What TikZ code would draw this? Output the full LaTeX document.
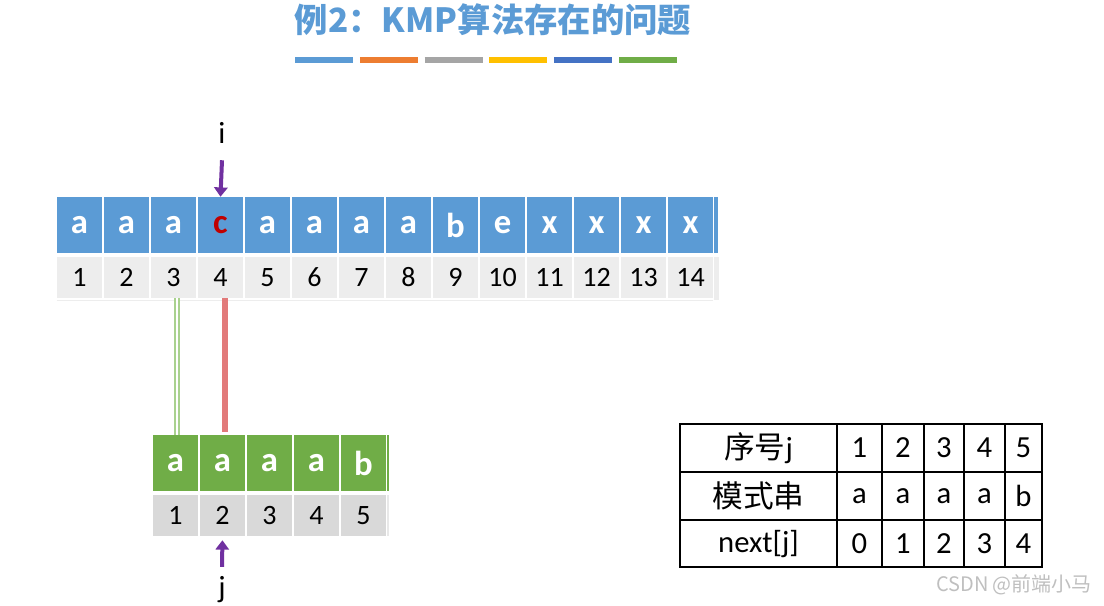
\documentclass[tikz,border=0pt]{standalone}
\usepackage{fontspec}
\setmainfont{Carlito}
\newfontfamily\cjk{Noto Sans CJK SC}
\usetikzlibrary{positioning,arrows.meta}
\definecolor{KBlue}{HTML}{5B9BD5}
\definecolor{KOrange}{HTML}{ED7D31}
\definecolor{KGray}{HTML}{A5A5A5}
\definecolor{KGold}{HTML}{FFC000}
\definecolor{KNavy}{HTML}{4472C4}
\definecolor{KGreen}{HTML}{70AD47}
\definecolor{KRed}{HTML}{C00000}
\definecolor{KPurple}{HTML}{7030A0}
\definecolor{KLight}{HTML}{EDEDED}
\definecolor{KMid}{HTML}{D9D9D9}
\definecolor{KLgreen}{HTML}{A9D18E}
\definecolor{KSalmon}{RGB}{226,122,122}
\begin{document}
\begin{tikzpicture}[x=0.75pt,y=-0.75pt,>=Triangle,
  txtcell/.style={minimum width=33.75pt,minimum height=42pt,inner sep=0pt,fill=KBlue,text=white,font=\fontsize{26}{30}\selectfont\bfseries},
  idxcell/.style={minimum width=33.75pt,minimum height=30.75pt,inner sep=0pt,fill=KLight,font=\fontsize{21}{25}\selectfont},
  patcell/.style={txtcell,fill=KGreen},
  patidx/.style={idxcell,fill=KMid},
  ptr/.style={->,KPurple,line width=3pt,>={Triangle[width=10pt,length=7pt]}},
  tabtxt/.style={inner sep=0pt,font=\fontsize{23}{27}\selectfont},
  bar/.style={line width=3.8pt}]
\useasboundingbox (0,0) rectangle (1104,606);
% title and colour bars
\node[font=\cjk\bfseries\fontsize{25}{30}\selectfont,text=KBlue] (title) at (493,20) {例2：KMP算法存在的问题};
\foreach \col [count=\k] in {KBlue,KOrange,KGray,KGold,KNavy,KGreen}
  \draw[bar,\col] ({295+64.8*(\k-1)},60) -- ({353+64.8*(\k-1)},60);
% main string
\foreach \ch/\tc [count=\k] in {a/white,a/white,a/white,c/KRed,a/white,a/white,a/white,a/white,b/white,e/white,x/white,x/white,x/white,x/white}{
  \node[txtcell,text=\tc] (t\k) at ({79.5+47*(\k-1)},225) {\ch};
  \node[idxcell] (n\k) at ({79.5+47*(\k-1)},277.5) {\k};
}
\fill[KBlue] (714,197) rectangle (718,253);
\fill[KLight] (714,257) rectangle (719,300);
\draw[KLight,line width=1pt] ([yshift=-1.5pt]n1.south west) -- ([yshift=-1.5pt]n14.south east);
% pattern string
\foreach \ch [count=\k] in {a,a,a,a,b}{
  \node[patcell] (p\k) at ({175.5+47*(\k-1)},463) {\ch};
  \node[patidx] (q\k) at ({175.5+47*(\k-1)},515.5) {\k};
}
\fill[KGreen] (387,435) rectangle (389,491);
\fill[KMid!60] (387,495) rectangle (389,536);
% pointers
\node[font=\fontsize{23}{27}\selectfont] (i) at (222,133) {i};
\draw[ptr] ([yshift=-9pt]i.south) -- (t4.north);
\node[font=\fontsize{23}{27}\selectfont] (j) at (222,590) {j};
\draw[ptr,shorten >=3pt] ([yshift=4pt]j.north) -- (q2.south);
% match / mismatch
\draw[KLgreen,line width=1.5pt,double=white,double distance=1.5pt]
  ([xshift=1.2pt]p1.north |- n3.south) -- ([xshift=1.2pt]p1.north);
\draw[KSalmon,line width=4.5pt] ([xshift=1.9pt]p2.north |- n4.south) -- ([xshift=1.9pt,yshift=2pt]p2.north);
% next table
\draw[line width=0.9pt] (680,424) rectangle (1042,567);
\foreach \yy in {472,520} \draw[line width=0.9pt] (680,\yy) -- (1042,\yy);
\foreach \xx in {837,882,924,964,1005} \draw[line width=0.9pt] (\xx,424) -- (\xx,567);
\node[tabtxt] (h1) at (758.5,448) {{\cjk 序号}j};
\node[tabtxt] (h2) at (758.5,496) {\cjk 模式串};
\node[tabtxt] (h3) at (758.5,544) {next[j]};
\foreach \cx/\a/\b/\c [count=\k] in {859.5/1/a/0,903/2/a/1,944/3/a/2,984.5/4/a/3,1023.5/5/b/4}{
  \node[tabtxt] (r\k) at (\cx,448) {\a};
  \node[tabtxt] (s\k) at (\cx,496) {\b};
  \node[tabtxt] (u\k) at (\cx,544) {\c};
}
% watermark
\node[font=\cjk\fontsize{15}{18}\selectfont,text=black!25] (mark) at (1014,585) {CSDN @前端小马};
\end{tikzpicture}
\end{document}
